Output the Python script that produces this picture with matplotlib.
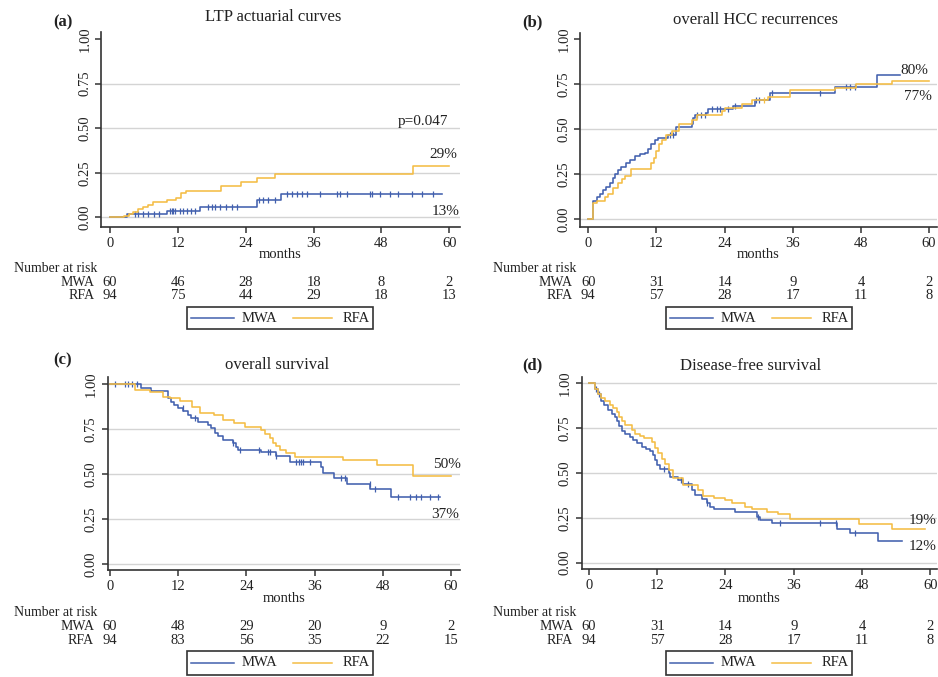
import numpy as np
import matplotlib
matplotlib.use("Agg")
import matplotlib.pyplot as plt
from matplotlib import transforms
from matplotlib.lines import Line2D
from matplotlib.patches import Rectangle

W, H = 938, 677
plt.rcParams['font.family'] = ['Liberation Serif', 'DejaVu Serif']

blue = '#4260ae'
yellow = '#f4bd45'
txt = '#222222'

months = [0, 12, 24, 36, 48, 60]
yticks = [0, 0.25, 0.5, 0.75, 1.0]
yticklabels = ['0.00', '0.25', '0.50', '0.75', '1.00']
groups = ['MWA', 'RFA']

# (a) LTP actuarial curves
a_mwa_t = [0, 3.0, 10.1, 16.0, 26.0, 30.2]
a_mwa_s = [0, 0.017, 0.035, 0.056, 0.095, 0.133]
a_mwa_end = 58.7
a_mwa_cens = [4.4, 5.0, 5.9, 6.8, 7.7, 8.6, 10.6, 10.9, 11.2, 11.5, 12.4, 13.0, 13.6, 14.4, 15.0,
              17.4, 18.0, 18.6, 19.5, 20.6, 21.5, 22.4, 26.3, 27.1, 28.0, 29.2, 31.3, 32.2, 33.0,
              33.9, 34.8, 37.2, 40.1, 40.7, 41.9, 46.0, 46.3, 47.8, 49.6, 51.0, 53.4, 55.2, 57.2]
a_rfa_t = [0, 2.4, 3.3, 4.1, 5.0, 5.9, 6.7, 7.6, 10.0, 11.7, 12.6, 13.5, 19.7, 23.1, 26.0, 29.1, 53.6]
a_rfa_s = [0, 0.01, 0.02, 0.03, 0.045, 0.06, 0.07, 0.087, 0.097, 0.11, 0.135, 0.15, 0.178, 0.198,
           0.221, 0.242, 0.288]
a_rfa_end = 59.9
a_rfa_cens = []
a_risk_mwa = [60, 46, 28, 18, 8, 2]
a_risk_rfa = [94, 75, 44, 29, 18, 13]

# (b) overall HCC recurrences
b_mwa_t = [0, 0.9, 1.5, 2.1, 2.6, 3.2, 3.8, 4.4, 4.7, 5.3, 5.8, 6.7, 7.3, 8.2, 9.1, 10.0, 10.6, 11.1,
           11.7, 12.3, 14.1, 15.5, 18.2, 18.5, 18.8, 20.8, 21.1, 25.5, 29.3, 32.0, 43.4, 50.8]
b_mwa_s = [0, 0.10, 0.12, 0.14, 0.16, 0.18, 0.20, 0.23, 0.25, 0.27, 0.29, 0.31, 0.33, 0.35, 0.36, 0.37,
           0.39, 0.42, 0.44, 0.45, 0.47, 0.51, 0.53, 0.56, 0.58, 0.59, 0.61, 0.63, 0.66, 0.70, 0.735, 0.80]
b_mwa_end = 54.9
b_mwa_cens = [14.4, 15.0, 19.1, 19.9, 20.5, 21.7, 22.6, 23.2, 24.6, 25.8, 29.6, 30.1, 32.3, 40.8,
              45.4, 46.1, 47.0]
b_rfa_t = [0, 0.9, 1.5, 2.9, 3.5, 4.4, 5.3, 5.9, 6.5, 7.5, 11.0, 11.5, 12.0, 12.5, 13.0, 13.6, 14.7,
           15.9, 18.2, 19.1, 23.5, 24.1, 27.0, 28.8, 31.7, 35.5, 43.4, 47.2, 53.4]
b_rfa_s = [0, 0.09, 0.10, 0.12, 0.14, 0.17, 0.20, 0.22, 0.24, 0.28, 0.31, 0.34, 0.38, 0.42, 0.44, 0.47,
           0.49, 0.53, 0.55, 0.58, 0.60, 0.62, 0.64, 0.66, 0.68, 0.72, 0.73, 0.75, 0.77]
b_rfa_end = 60.0
b_rfa_cens = [31.0]
b_risk_mwa = [60, 31, 14, 9, 4, 2]
b_risk_rfa = [94, 57, 28, 17, 11, 8]

# (c) overall survival
c_mwa_t = [0, 5.5, 7.3, 10.2, 10.8, 11.3, 11.9, 12.9, 13.7, 14.3, 15.5, 17.3, 17.8, 18.4, 19.0, 19.9,
           21.6, 22.2, 22.6, 26.5, 29.3, 31.6, 37.2, 37.5, 39.5, 41.8, 45.8, 49.5]
c_mwa_s = [1.0, 0.98, 0.96, 0.92, 0.90, 0.885, 0.865, 0.85, 0.83, 0.81, 0.79, 0.77, 0.755, 0.73, 0.71,
           0.69, 0.67, 0.65, 0.635, 0.62, 0.60, 0.565, 0.54, 0.505, 0.48, 0.445, 0.415, 0.372]
c_mwa_end = 58.0
c_mwa_cens = [0.9, 2.6, 3.2, 3.8, 4.7, 12.85, 14.9, 21.7, 22.8, 26.3, 27.8, 28.1, 29.3, 32.8, 33.2,
              33.6, 34.0, 35.2, 40.7, 41.4, 45.7, 46.6, 50.7, 52.8, 53.9, 54.8, 56.3, 57.7]
c_rfa_t = [0, 4.4, 7.0, 9.4, 10.5, 12.3, 14.4, 15.8, 18.3, 19.9, 21.8, 23.7, 26.6, 27.2, 28.2, 28.7,
           29.3, 30.0, 31.0, 32.6, 41.0, 47.0, 53.4]
c_rfa_s = [1.0, 0.965, 0.955, 0.93, 0.92, 0.905, 0.875, 0.84, 0.83, 0.80, 0.785, 0.76, 0.745, 0.725,
           0.70, 0.67, 0.655, 0.635, 0.615, 0.595, 0.58, 0.55, 0.49]
c_rfa_end = 60.0
c_rfa_cens = []
c_risk_mwa = [60, 48, 29, 20, 9, 2]
c_risk_rfa = [94, 83, 56, 35, 22, 15]

# (d) Disease-free survival
d_mwa_t = [0, 1.1, 1.6, 2.1, 2.6, 3.4, 4.0, 4.6, 4.9, 5.2, 5.8, 6.3, 7.2, 7.8, 8.4, 9.3, 10.1, 10.7,
           11.3, 11.6, 11.9, 12.5, 14.0, 14.3, 15.7, 16.6, 18.1, 18.7, 19.8, 20.7, 21.3, 21.9, 25.7,
           29.5, 30.0, 32.1, 43.6, 45.9, 50.9]
d_mwa_s = [1.0, 0.97, 0.94, 0.90, 0.88, 0.85, 0.83, 0.81, 0.79, 0.76, 0.735, 0.715, 0.70, 0.685, 0.665,
           0.645, 0.635, 0.62, 0.60, 0.575, 0.545, 0.525, 0.50, 0.48, 0.46, 0.44, 0.405, 0.38, 0.355,
           0.33, 0.31, 0.30, 0.28, 0.255, 0.24, 0.22, 0.19, 0.165, 0.12]
d_mwa_end = 55.0
d_mwa_cens = [1.2, 1.8, 13.2, 16.2, 17.5, 20.8, 29.8, 33.6, 40.6, 43.4, 46.8]
d_rfa_t = [0, 1.1, 1.6, 2.1, 2.8, 3.7, 4.3, 4.9, 5.3, 5.8, 6.3, 7.5, 8.1, 9.0, 9.6, 11.0, 11.6, 12.2,
           12.8, 13.4, 14.0, 14.8, 16.6, 19.2, 20.1, 21.9, 24.0, 25.1, 27.5, 28.6, 31.3, 33.3, 35.4,
           47.4, 53.3]
d_rfa_s = [1.0, 0.97, 0.94, 0.92, 0.90, 0.88, 0.86, 0.84, 0.815, 0.79, 0.765, 0.74, 0.72, 0.705, 0.695,
           0.675, 0.64, 0.61, 0.58, 0.55, 0.515, 0.47, 0.435, 0.405, 0.37, 0.362, 0.35, 0.33, 0.313,
           0.30, 0.285, 0.27, 0.245, 0.215, 0.19]
d_rfa_end = 59.1
d_rfa_cens = []
d_risk_mwa = [60, 31, 14, 9, 4, 2]
d_risk_rfa = [94, 57, 28, 17, 11, 8]

fig = plt.figure(figsize=(W / 100, H / 100), dpi=100)
fig.patch.set_facecolor('white')


def ftext(x, y, s, **kw):
    # place text using pixel coords measured from the top left
    kw.setdefault('color', txt)
    fig.text(x / W, 1 - y / H, s, **kw)


def step_at(t, s, x):
    i = np.searchsorted(np.array(t), np.array(x), side='right') - 1
    return np.array(s)[i]


def panel(box, xlim, ylim, grid, curves, title, title_x, title_y, label, label_x, label_y,
          risk, risk_y, risk_left, legend_box):
    left, top, right, bottom = box
    ax = fig.add_axes([left / W, 1 - bottom / H, (right - left) / W, (bottom - top) / H])
    ax.set_xlim(*xlim)
    ax.set_ylim(*ylim)
    for g in grid:
        ax.axhline(g, color='#d4d4d4', lw=1.0, zorder=0)
    for t, s, end, cens, col in curves:
        ax.step(list(t) + [end], list(s) + [s[-1]], where='post', color=col, lw=1.15)
        if cens:
            ax.plot(cens, step_at(t, s, cens), ls='none', marker='|', ms=3.8, mew=0.9, color=col)
    for sp in ['top', 'right']:
        ax.spines[sp].set_visible(False)
    for sp in ['left', 'bottom']:
        ax.spines[sp].set_color('#333333')
        ax.spines[sp].set_linewidth(1.2)
    ax.set_xticks(months)
    ax.set_yticks(yticks)
    ax.set_yticklabels(yticklabels, rotation=90, va='center')
    ax.tick_params(direction='out', length=4, width=1.1, colors='#333333', labelcolor=txt,
                   labelsize=10.5, pad=3)
    ax.set_facecolor('white')

    ftext(title_x, title_y, title, fontsize=12, ha='center', va='center')
    ftext(label_x, label_y, label, fontsize=12, fontweight='bold', ha='left', va='center')
    ftext((left + right) / 2, risk_y - 15, 'months', fontsize=10.5, ha='center', va='center')

    # number at risk table
    ftext(risk_left, risk_y, 'Number at risk', fontsize=10, ha='left', va='center')
    tr = transforms.blended_transform_factory(ax.transData, fig.transFigure)
    for k, (name, row) in enumerate(zip(groups, risk)):
        yy = 1 - (risk_y + 13.5 * (k + 1)) / H
        ax.text(-2.8, yy, name, transform=tr, ha='right', va='center', fontsize=10, color=txt,
                clip_on=False)
        for m, n in zip(months, row):
            ax.text(m, yy, str(n), transform=tr, ha='center', va='center', fontsize=10.5, color=txt,
                    clip_on=False)

    # legend box
    lx0, ly0, lx1, ly1 = legend_box
    fig.add_artist(Rectangle((lx0 / W, 1 - ly1 / H), (lx1 - lx0) / W, (ly1 - ly0) / H,
                             transform=fig.transFigure, fill=False, edgecolor='#333333', lw=1.2))
    ym = 1 - (ly0 + ly1) / 2 / H
    fig.add_artist(Line2D([(lx0 + 4) / W, (lx0 + 47) / W], [ym, ym], transform=fig.transFigure,
                          color=blue, lw=1.1))
    ftext(lx0 + 55, (ly0 + ly1) / 2, 'MWA', fontsize=10.5, ha='left', va='center')
    fig.add_artist(Line2D([(lx0 + 106) / W, (lx0 + 145) / W], [ym, ym], transform=fig.transFigure,
                          color=yellow, lw=1.1))
    ftext(lx0 + 156, (ly0 + ly1) / 2, 'RFA', fontsize=10.5, ha='left', va='center')
    return ax


g4 = [0, 0.25, 0.5, 0.75]
g5 = [0, 0.25, 0.5, 0.75, 1.0]

ax_a = panel((101, 32, 460, 227), (-1.59, 61.9), (-0.054, 1.039), g4,
             [(a_mwa_t, a_mwa_s, a_mwa_end, a_mwa_cens, blue),
              (a_rfa_t, a_rfa_s, a_rfa_end, a_rfa_cens, yellow)],
             'LTP actuarial curves', 273, 17, '(a)', 53, 22,
             [a_risk_mwa, a_risk_rfa], 269, 14, (187, 307, 373, 329))
ftext(448, 121, 'p=0.047', fontsize=11, ha='right', va='center')
ftext(457, 155, '29%', fontsize=11, ha='right', va='center')
ftext(460, 212, '13%', fontsize=11, ha='right', va='center')

ax_b = panel((580, 33, 937, 227), (-1.46, 61.4), (-0.0445, 1.035), g4,
             [(b_mwa_t, b_mwa_s, b_mwa_end, b_mwa_cens, blue),
              (b_rfa_t, b_rfa_s, b_rfa_end, b_rfa_cens, yellow)],
             'overall HCC recurrences', 755, 20, '(b)', 522, 22,
             [b_risk_mwa, b_risk_rfa], 269, 493, (666, 307, 852, 329))
ftext(928, 70, '80%', fontsize=11, ha='right', va='center')
ftext(932, 97, '77%', fontsize=11, ha='right', va='center')

ax_c = panel((107.7, 376.7, 460, 570), (-0.4, 61.6), (-0.033, 1.041), g5,
             [(c_mwa_t, c_mwa_s, c_mwa_end, c_mwa_cens, blue),
              (c_rfa_t, c_rfa_s, c_rfa_end, c_rfa_cens, yellow)],
             'overall survival', 277, 365, '(c)', 53, 360,
             [c_risk_mwa, c_risk_rfa], 613, 14, (187, 651, 373, 675))
ftext(461, 465, '50%', fontsize=11, ha='right', va='center')
ftext(459, 514, '37%', fontsize=11, ha='right', va='center')

ax_d = panel((581.7, 376.7, 937, 569.3), (-1.28, 61.2), (-0.037, 1.037), g5,
             [(d_mwa_t, d_mwa_s, d_mwa_end, d_mwa_cens, blue),
              (d_rfa_t, d_rfa_s, d_rfa_end, d_rfa_cens, yellow)],
             'Disease-free survival', 751, 366, '(d)', 522, 365,
             [d_risk_mwa, d_risk_rfa], 613, 493, (666, 651, 852, 675))
ftext(937, 520, '19%', fontsize=11, ha='right', va='center')
ftext(937, 547, '12%', fontsize=11, ha='right', va='center')

fig.savefig('out.png', dpi=100, facecolor='white')
